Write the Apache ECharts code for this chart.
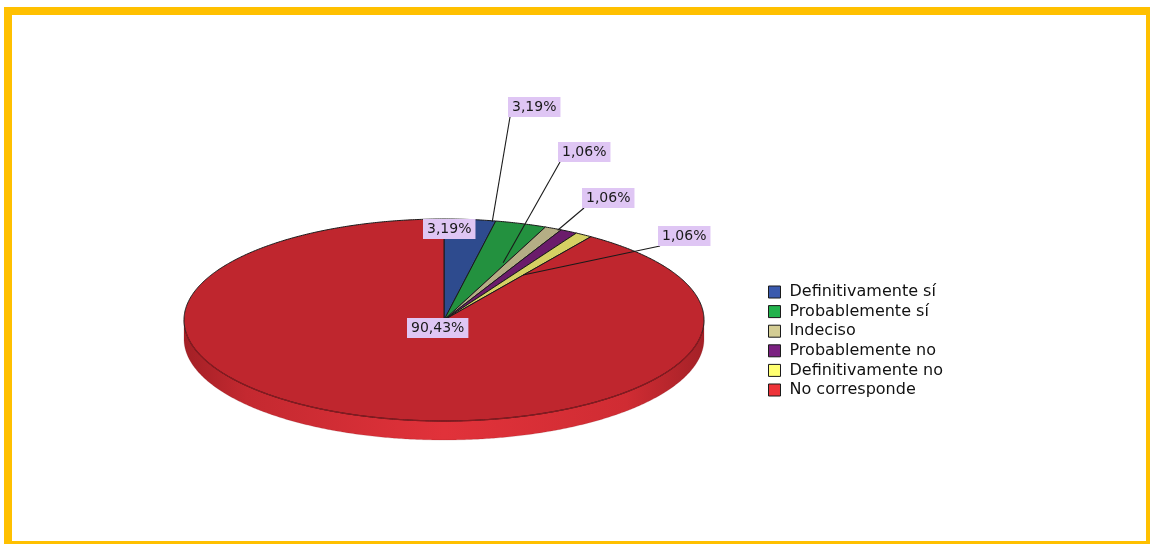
<!DOCTYPE html>
<html><head><meta charset="utf-8">
<script src="https://cdn.jsdelivr.net/npm/echarts@6/dist/echarts.min.js"></script>
<style>html,body{margin:0;padding:0;background:#fff}#c{width:1150px;height:544px}</style>
</head><body><div id="c"></div><script>
// ---- data ----
const categories = ['Definitivamente sí','Probablemente sí','Indeciso','Probablemente no','Definitivamente no','No corresponde'];
const percentages = [3.19, 3.19, 1.06, 1.06, 1.06, 90.43];

// ---- styles / layout ----
const legendColors = ['#3A5AAE','#22B24C','#D4CD94','#7B2181','#FFFF71','#EE3339'];
const faceColors   = ['#2E4B8E','#23913F','#B5AE85','#6B1C6B','#D5D163','#BF262E'];
const rimColors    = ['#1F3466','#17652C','#7E7856','#481248','#8F8C3F','#861A20'];
const PIE = {cx:444, cy:320, rx:260, ry:101, depth:19};
// label box top-left offset from pie centre (px); leader end as [deg clockwise from top, radius fraction]
const labelLayout = [
  {dx:-21, dy:-101, leader:null},
  {dx:64,  dy:-223, leader:[10.8, 0.99]},
  {dx:114, dy:-178, leader:[21.9, 0.61]},
  {dx:138, dy:-132, leader:[26.2, 0.99]},
  {dx:214, dy:-94,  leader:[34.3, 0.54]},
  {dx:-37, dy:-2,   leader:null}
];

const total = percentages.reduce((a,b)=>a+b,0);
const cum = [0];
percentages.forEach(v=>cum.push(cum[cum.length-1]+v));
const fmt = v => v.toFixed(2).replace('.', ',') + '%';

function ellPt(theta, r){
  return [PIE.cx + PIE.rx*r*Math.sin(theta), PIE.cy - PIE.ry*r*Math.cos(theta)];
}
function arcPts(a, b, dy){
  const n = Math.max(2, Math.ceil((b-a)/(Math.PI/360)));
  const pts = [];
  for (let k=0;k<=n;k++){ const t=a+(b-a)*k/n; const p=ellPt(t,1); pts.push([p[0], p[1]+dy]); }
  return pts;
}

function build(i){
  const a = cum[i]/total*2*Math.PI, b = cum[i+1]/total*2*Math.PI;
  const children = [];
  // side (front half only)
  const s = Math.max(a, Math.PI/2), e = Math.min(b, 3*Math.PI/2);
  if (s < e){
    const top = arcPts(s, e, 0);
    const bot = arcPts(s, e, PIE.depth).reverse();
    children.push({type:'polygon', z2:1, shape:{points: top.concat(bot)},
      style:{fill: new echarts.graphic.LinearGradient(0,0,1,0,[
        {offset:0, color:'#A32026'},{offset:0.12, color:'#C42930'},{offset:0.5, color:'#E1323A'},
        {offset:0.85, color:'#D02C33'},{offset:1, color:'#A42127'}]), stroke:'rgba(120,20,25,0.3)', lineWidth:0.6}});
  }
  // top face
  const pts = [[PIE.cx, PIE.cy]].concat(arcPts(a, b, 0));
  children.push({type:'polygon', z2:10, shape:{points: pts},
    style:{fill: faceColors[i], stroke:'#1a1a1a', lineWidth:1, lineJoin:'round'}});
  // softer rim where the top face meets the visible side
  if (s < e){
    children.push({type:'polyline', z2:12, shape:{points: arcPts(s + 0.12, e - 0.12, 0)},
      style:{stroke: rimColors[i], lineWidth:1.3, fill:null}});
  }
  // label
  const L = labelLayout[i];
  const lx = PIE.cx + L.dx, ly = PIE.cy + L.dy;
  if (L.leader){
    const end = ellPt(L.leader[0]*Math.PI/180, L.leader[1]);
    children.push({type:'line', z2:20, shape:{x1:lx+2, y1:ly+20, x2:end[0], y2:end[1]},
      style:{stroke:'#1a1a1a', lineWidth:1.1}});
  }
  children.push({type:'text', z2:30, x:lx, y:ly,
    style:{text: fmt(percentages[i]), fill:'#1a1a1a', font:'14px "DejaVu Sans"', lineHeight:14,
      backgroundColor:'#DFC6F4', padding:[3,4,3,4], align:'left', verticalAlign:'top'}});
  return {type:'group', children};
}

const chart = echarts.init(document.getElementById('c'), null, {renderer:'canvas'});
chart.setOption({
  animation:false,
  backgroundColor:'#ffffff',
  legend:{
    orient:'vertical', left:763, top:279, itemWidth:12, itemHeight:12, itemGap:3.6, icon:'rect',
    selectedMode:false,
    data: categories.map((n,i)=>({name:n, itemStyle:{color:legendColors[i], borderColor:'#1a1a1a', borderWidth:1}})),
    textStyle:{fontFamily:'DejaVu Sans', fontSize:16, color:'#111', lineHeight:16, padding:[0,0,0,4]}
  },
  graphic:[
    {type:'rect', shape:{x:4, y:7, width:1146, height:8}, style:{fill:'#FFC000'}},
    {type:'rect', shape:{x:4, y:7, width:8, height:537}, style:{fill:'#FFC000'}},
    {type:'rect', shape:{x:1146, y:7, width:4, height:537}, style:{fill:'#FFC000'}},
    {type:'rect', shape:{x:4, y:541, width:1146, height:3}, style:{fill:'#FFC000'}}
  ],
  series: categories.map((name,i)=>({
    type:'custom', name, coordinateSystem:'none', silent:true,
    data:[[percentages[i]]],
    itemStyle:{color: legendColors[i]},
    renderItem: () => build(i)
  }))
});
</script></body></html>
